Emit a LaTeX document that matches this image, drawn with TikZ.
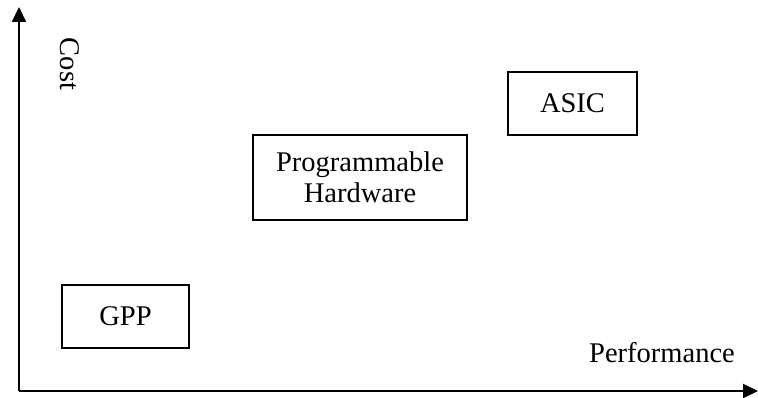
\documentclass[tikz,border=0pt]{standalone}
\usepackage{fontspec}
\setmainfont{Liberation Serif}
\usetikzlibrary{arrows.meta}
\begin{document}
\begin{tikzpicture}[x=1pt,y=-1pt,
  box/.style={draw,line width=2pt,minimum width=127pt,minimum height=63pt,inner sep=0pt,font=\fontsize{28.5}{31}\selectfont},
  lbl/.style={font=\fontsize{28.5}{31}\selectfont,inner sep=0pt},
  axis/.style={line width=2.2pt,-{Triangle[length=15pt,width=14pt]}}]
\useasboundingbox (0,0) rectangle (758,398);
\coordinate (o) at (19,391);
\coordinate (ytop) at (19,7);
\coordinate (xend) at (758,391);
\draw[axis] (o) -- (ytop);
\draw[axis] (o) -- (xend);
\node[lbl,rotate=-90] (cost) at (70,64) {Cost};
\node[lbl] (perf) at (662,353) {Performance};
\node[box] (gpp) at (125.5,316.5) {GPP};
\node[box,minimum width=214pt,minimum height=85pt,align=center] (ph) at (360,177.5) {Programmable\\Hardware};
\node[box,minimum width=129pt] (asic) at (572.5,103.5) {ASIC};
\end{tikzpicture}
\end{document}
